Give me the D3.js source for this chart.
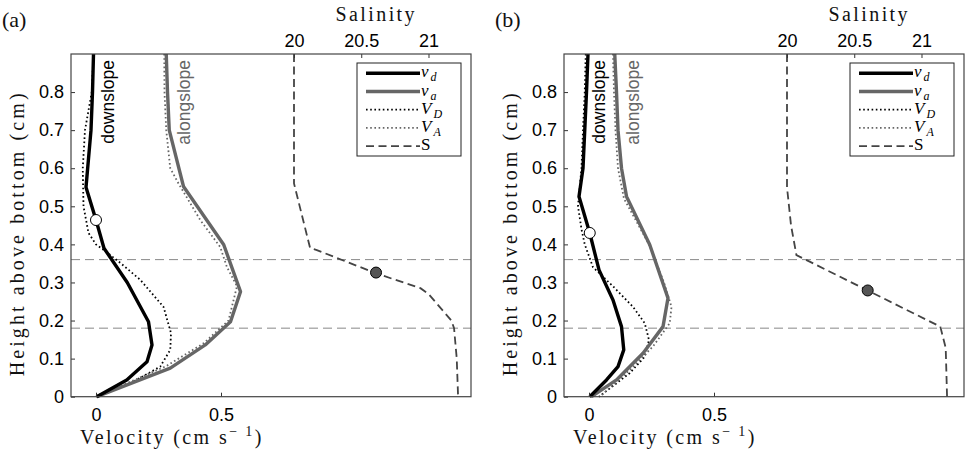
<!DOCTYPE html>
<html>
<head>
<meta charset="utf-8">
<script src="https://cdn.jsdelivr.net/npm/d3@7"></script>
<style>
body { margin: 0; background: #fff; }
svg { display: block; }
.tick text { font-family: "Liberation Sans", Arial, sans-serif; font-size: 18px; fill: #000; }
.tick line { stroke: #333; }
.lab { font-family: "Liberation Serif", "Times New Roman", serif; font-size: 20px; fill: #111; }
</style>
</head>
<body>
<div id="chart"></div>
<script>
// values, [velocity or salinity, height]
const heightTicks = [0, 0.1, 0.2, 0.3, 0.4, 0.5, 0.6, 0.7, 0.8];
const velTicks = [0, 0.5];
const salTicks = [20, 20.5, 21];
const layerLines = [0.36, 0.18];

const vdA = [[-0.01,0.9],[-0.014,0.8],[-0.02,0.7],[-0.04,0.55],[0.0,0.464],[0.032,0.39],[0.125,0.3],[0.21,0.197],[0.224,0.136],[0.204,0.092],[0.123,0.044],[0.003,0]];
const VDA = [[-0.01,0.9],[-0.017,0.8],[-0.044,0.7],[-0.053,0.6],[-0.05,0.5],[-0.03,0.43],[0.0,0.4],[0.03,0.386],[0.1,0.35],[0.177,0.307],[0.27,0.236],[0.3,0.167],[0.297,0.123],[0.257,0.079],[0.137,0.035],[0.0,0]];
const vaA = [[0.281,0.9],[0.286,0.8],[0.293,0.7],[0.35,0.552],[0.511,0.399],[0.578,0.276],[0.538,0.197],[0.437,0.136],[0.297,0.075],[0.003,0]];
const VAA = [[0.273,0.9],[0.274,0.8],[0.281,0.7],[0.297,0.6],[0.33,0.56],[0.417,0.464],[0.497,0.393],[0.524,0.34],[0.564,0.29],[0.53,0.2],[0.43,0.14],[0.28,0.08],[0.0,0]];
const salA = [[20.0,0.9],[20.0,0.56],[20.12,0.39],[20.17,0.385],[20.61,0.324],[20.94,0.285],[21.0,0.27],[21.17,0.2],[21.19,0.18],[21.21,0.1],[21.22,0]];
const openDotA = [0.0, 0.464];
const salDotA = [20.61, 0.326];

const vdB = [[-0.004,0.9],[-0.01,0.8],[-0.017,0.7],[-0.024,0.6],[-0.04,0.526],[0.003,0.43],[0.04,0.333],[0.096,0.254],[0.13,0.184],[0.139,0.123],[0.116,0.079],[0.07,0.044],[0.003,0]];
const VDB = [[-0.013,0.9],[-0.017,0.8],[-0.024,0.7],[-0.03,0.6],[-0.044,0.5],[-0.03,0.44],[-0.017,0.4],[0.016,0.34],[0.096,0.29],[0.176,0.236],[0.223,0.193],[0.24,0.149],[0.223,0.105],[0.163,0.062],[0.04,0]];
const vaB = [[0.103,0.9],[0.11,0.8],[0.116,0.7],[0.13,0.6],[0.15,0.526],[0.243,0.399],[0.316,0.259],[0.296,0.184],[0.216,0.114],[0.11,0.044],[0.01,0]];
const VAB = [[0.096,0.9],[0.1,0.8],[0.106,0.7],[0.116,0.6],[0.14,0.52],[0.24,0.4],[0.3,0.3],[0.33,0.236],[0.323,0.193],[0.256,0.132],[0.163,0.07],[0.043,0]];
const salB = [[20.0,0.9],[20.0,0.55],[20.03,0.45],[20.07,0.372],[21.14,0.184],[21.18,0.128],[21.19,0]];
const openDotB = [0.003, 0.43];
const salDotB = [20.6, 0.279];

const panels = [
  {tag: "(a)", left: 71, vd: vdA, VD: VDA, va: vaA, VA: VAA, sal: salA, open: openDotA, dot: salDotA, downX: 0.07, alongX: 0.374},
  {tag: "(b)", left: 564, vd: vdB, VD: VDB, va: vaB, VA: VAB, sal: salB, open: openDotB, dot: salDotB, downX: 0.064, alongX: 0.198}
];

const W = 971, H = 455;
const plotTop = 54, width = 400, height = 342.7;

const svg = d3.select("#chart").append("svg")
  .attr("width", W).attr("height", H);

const x = d3.scaleLinear().domain([-0.1, 1.5]).range([0, width]);
const s = d3.scaleLinear().domain([18.342, 21.316]).range([0, width]);
const y = d3.scaleLinear().domain([0, 0.9]).range([height, 0]);

const gray = "#666";

panels.forEach(p => {
  const g = svg.append("g").attr("transform", "translate(" + p.left + "," + plotTop + ")");

  const velLine = d3.line().x(d => x(d[0])).y(d => y(d[1]));
  const salLine = d3.line().x(d => s(d[0])).y(d => y(d[1]));

  // layer boundaries
  g.selectAll(".layer").data(layerLines).enter().append("line")
    .attr("x1", 0).attr("x2", width)
    .attr("y1", d => y(d)).attr("y2", d => y(d))
    .style("stroke", "#888").style("stroke-width", 1)
    .style("stroke-dasharray", "9,5");

  g.append("path").attr("d", velLine(p.VD))
    .style("fill", "none").style("stroke", "#000").style("stroke-width", 1.8)
    .style("stroke-dasharray", "1.6,2.6");
  g.append("path").attr("d", velLine(p.VA))
    .style("fill", "none").style("stroke", gray).style("stroke-width", 1.8)
    .style("stroke-dasharray", "1.6,2.6");
  g.append("path").attr("d", velLine(p.va))
    .style("fill", "none").style("stroke", gray).style("stroke-width", 3.4)
    .style("stroke-linejoin", "round");
  g.append("path").attr("d", velLine(p.vd))
    .style("fill", "none").style("stroke", "#000").style("stroke-width", 3.4)
    .style("stroke-linejoin", "round");
  g.append("path").attr("d", salLine(p.sal))
    .style("fill", "none").style("stroke", "#444").style("stroke-width", 1.8)
    .style("stroke-dasharray", "8,4.5");

  g.append("circle").attr("cx", x(p.open[0])).attr("cy", y(p.open[1])).attr("r", 5.5)
    .style("fill", "#fff").style("stroke", "#000").style("stroke-width", 1);
  g.append("circle").attr("cx", s(p.dot[0])).attr("cy", y(p.dot[1])).attr("r", 5.5)
    .style("fill", "#555").style("stroke", "#000").style("stroke-width", 1);

  // rotated labels on the curves
  g.append("text")
    .attr("transform", "translate(" + x(p.downX) + "," + 6 + ") rotate(-90)")
    .attr("text-anchor", "end")
    .style("font-family", "Liberation Sans, Arial, sans-serif").style("font-size", "17.5px")
    .style("fill", "#000")
    .text("downslope");
  g.append("text")
    .attr("transform", "translate(" + x(p.alongX) + "," + 6 + ") rotate(-90)")
    .attr("text-anchor", "end")
    .style("font-family", "Liberation Sans, Arial, sans-serif").style("font-size", "17.5px")
    .style("fill", gray)
    .text("alongslope");

  // axes, ticks pointing inward
  g.append("g")
    .call(d3.axisLeft(y).tickValues(heightTicks).tickSize(-4).tickPadding(7)
      .tickFormat(d => d === 0 ? "0" : d3.format(".1f")(d)))
    .call(a => a.select(".domain").remove());
  g.append("g")
    .attr("transform", "translate(0," + height + ")")
    .call(d3.axisBottom(x).tickValues(velTicks).tickSize(-4).tickPadding(11.5)
      .tickFormat(d => d === 0 ? "0" : d3.format(".1f")(d)))
    .call(a => a.select(".domain").remove());
  g.append("g")
    .call(d3.axisTop(s).tickValues(salTicks).tickSize(-4).tickPadding(7)
      .tickFormat(d => String(d)))
    .call(a => a.select(".domain").remove());

  g.append("rect")
    .attr("x", 0).attr("y", 0).attr("width", width).attr("height", height)
    .style("fill", "none").style("stroke", "#444").style("stroke-width", 1.2);

  // legend
  const lg = g.append("g").attr("transform", "translate(286,9)");
  lg.append("rect").attr("width", 104).attr("height", 93)
    .style("fill", "#fff").style("stroke", "#222").style("stroke-width", 1);
  const items = [
    {base: "v", sub: "d", italic: true, color: "#000", w: 3.4, dash: null},
    {base: "v", sub: "a", italic: true, color: gray, w: 3.4, dash: null},
    {base: "V", sub: "D", italic: true, color: "#000", w: 1.8, dash: "1.6,2.6"},
    {base: "V", sub: "A", italic: true, color: gray, w: 1.8, dash: "1.6,2.6"},
    {base: "S", sub: "", italic: false, color: "#444", w: 1.8, dash: "8,4.5"}
  ];
  items.forEach((it, i) => {
    const yy = 10.3 + i * 18.2;
    lg.append("line").attr("x1", 9).attr("x2", 63).attr("y1", yy).attr("y2", yy)
      .style("stroke", it.color).style("stroke-width", it.w)
      .style("stroke-dasharray", it.dash);
    const t = lg.append("text").attr("x", 64).attr("y", yy + 4)
      .style("font-family", "Liberation Serif, Times New Roman, serif")
      .style("font-size", "17px").style("fill", "#000");
    t.append("tspan").style("font-style", it.italic ? "italic" : "normal").text(it.base);
    if (it.sub) {
      t.append("tspan").attr("dx", 2).attr("dy", 4)
        .style("font-style", "italic").style("font-size", "12px").text(it.sub);
    }
  });

  // panel tag and axis titles
  svg.append("text").attr("class", "lab")
    .attr("x", p.left - 69).attr("y", 27).style("font-size", "22px").text(p.tag);

  svg.append("text").attr("class", "lab")
    .attr("x", p.left + s(20.5) + 15).attr("y", 20.7)
    .attr("text-anchor", "middle").style("letter-spacing", "2.4px")
    .text("Salinity");

  const vt = svg.append("text").attr("class", "lab")
    .attr("x", p.left + 9).attr("y", 444).style("letter-spacing", "2.4px");
  vt.append("tspan").text("Velocity (cm s");
  vt.append("tspan").attr("dy", -8).style("font-size", "14px").text("\u2212 1");
  vt.append("tspan").attr("dy", 8).text(")");

  svg.append("text").attr("class", "lab")
    .attr("transform", "translate(" + (p.left - 47) + "," + (plotTop + height / 2 + 8) + ") rotate(-90)")
    .attr("text-anchor", "middle").style("letter-spacing", "3.1px")
    .text("Height above bottom (cm)");
});
</script>
</body>
</html>
